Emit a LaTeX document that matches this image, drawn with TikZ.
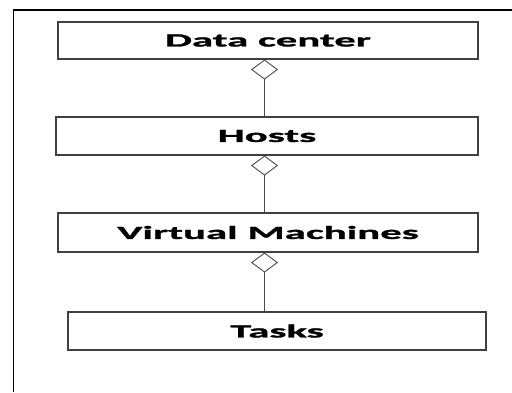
\documentclass[tikz,border=0pt]{standalone}
\usepackage{fontspec}
\newfontfamily\lblfont{Carlito}[FakeStretch=2.3,FakeBold=1.5]
\usetikzlibrary{arrows.meta}
\begin{document}
\begin{tikzpicture}[x=1pt,y=-1pt,
  box/.style={draw=black!75,line width=1.1pt,fill=white,inner sep=0pt,
    font=\lblfont\bfseries\fontsize{18.6pt}{20pt}\selectfont},
  agg/.style={draw=black!70,line width=0.9pt,
    {Diamond[open,fill=white,length=20pt,width=27pt,line width=0.9pt]}-}]
\useasboundingbox (0,0) rectangle (512,392);
\fill[white] (0,0) rectangle (512,392);
\draw[line width=1.8pt] (13.5,392) -- (13.5,10) -- (512,10);
\node[box,minimum width=420pt,minimum height=37pt] (dc) at (268,40.5) {Data center};
\node[box,minimum width=422pt,minimum height=38pt] (hosts) at (267,136) {Hosts};
\node[box,minimum width=420pt,minimum height=39pt] (vm) at (268,232.5) {Virtual Machines};
\node[box,minimum width=418pt,minimum height=38pt] (tasks) at (277,331) {Tasks};
\draw[agg] ([xshift=-3.5pt]dc.south) -- ([xshift=-3.5pt]dc.south |- hosts.north);
\draw[agg] ([xshift=-2.5pt]hosts.south) -- ([xshift=-2.5pt]hosts.south |- vm.north);
\draw[agg] ([xshift=-3.5pt]vm.south) -- ([xshift=-3.5pt]vm.south |- tasks.north);
\end{tikzpicture}
\end{document}
